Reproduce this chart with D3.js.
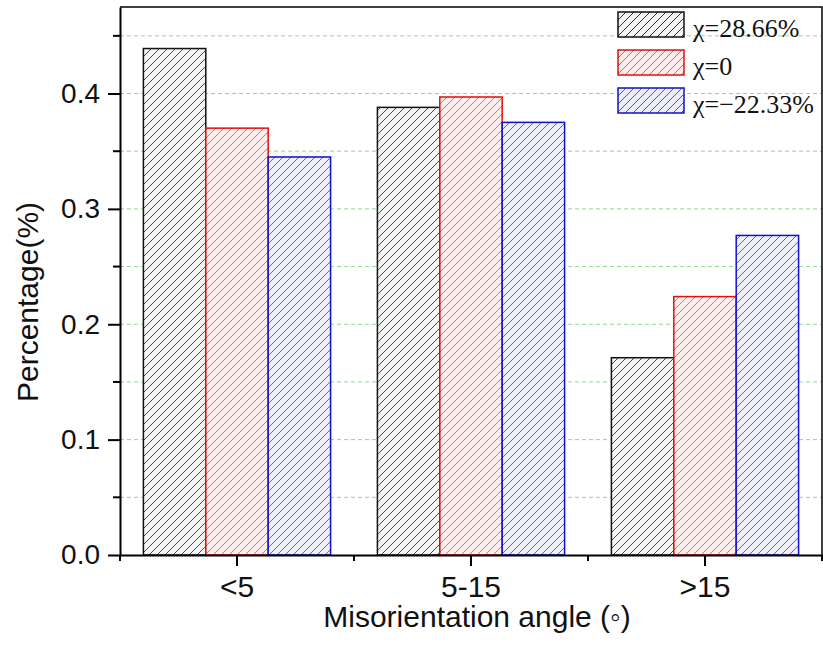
<!DOCTYPE html>
<html>
<head>
<meta charset="utf-8">
<script src="https://cdn.jsdelivr.net/npm/d3@7"></script>
<style>
  body { margin: 0; background: #fff; }
  svg { display: block; }
</style>
</head>
<body>
<svg id="chart" width="823" height="648"></svg>
<script>
// data
const categories = ['<5', '5-15', '>15']
const seriesNames = ['χ=28.66%', 'χ=0', 'χ=−22.33%']
const chi2866 = [0.439, 0.388, 0.171]
const chi0 = [0.370, 0.397, 0.224]
const chiMinus2233 = [0.345, 0.375, 0.277]
const yTicks = [0.0, 0.1, 0.2, 0.3, 0.4]
const yMinorTicks = [0.05, 0.15, 0.25, 0.35, 0.45]

const values = [chi2866, chi0, chiMinus2233]
const strokes = ['#111', '#e01010', '#1010c8']
const hatch = ['#333', '#e06060', '#5050c0']
const tints = ['#f3f3f3', '#fcebeb', '#ededf9']

const svg = d3.select('#chart')
const mLeft = 120, mRight = 822, mTop = 7, mBottom = 555

const x0 = d3.scaleBand().domain(categories).range([mLeft, mRight])
const bw = x0.bandwidth()
const x1 = d3.scaleBand().domain(d3.range(3)).range([bw * 0.1, bw * 0.9])
const y = d3.scaleLinear().domain([0, 0.475]).range([mBottom, mTop])

// hatch patterns
const defs = svg.append('defs')
hatch.forEach((c, i) => {
  const p = defs.append('pattern')
    .attr('id', 'hatch' + i)
    .attr('patternUnits', 'userSpaceOnUse')
    .attr('width', 8)
    .attr('height', 8)
  p.append('rect').attr('width', 8).attr('height', 8).attr('fill', tints[i])
  p.append('path')
    .attr('d', 'M0,8 L8,0 M-2,2 L2,-2 M6,10 L10,6')
    .attr('stroke', c)
    .attr('stroke-width', 1)
})

// gridlines
svg.append('g')
  .selectAll('line')
  .data(yMinorTicks.concat(yTicks.slice(1)))
  .enter().append('line')
  .attr('x1', mLeft)
  .attr('x2', mRight)
  .attr('y1', d => y(d))
  .attr('y2', d => y(d))
  .attr('stroke', '#8fd68f')
  .attr('stroke-width', 1)
  .attr('stroke-dasharray', '4,3')

// bars
const rows = []
categories.forEach((c, ci) => {
  values.forEach((s, si) => rows.push({ cat: c, s: si, v: s[ci] }))
})
svg.append('g')
  .selectAll('rect')
  .data(rows)
  .enter().append('rect')
  .attr('x', d => x0(d.cat) + x1(d.s))
  .attr('y', d => y(d.v))
  .attr('width', x1.bandwidth())
  .attr('height', d => y(0) - y(d.v))
  .attr('fill', d => 'url(#hatch' + d.s + ')')
  .attr('fill-opacity', 0.9)
  .attr('stroke', d => strokes[d.s])
  .attr('stroke-width', 1.5)

// frame top/right
svg.append('path')
  .attr('d', `M${mLeft},${mTop} H${mRight} V${mBottom}`)
  .attr('fill', 'none')
  .attr('stroke', '#000')
  .attr('stroke-width', 1.5)

// x axis
const xAxis = svg.append('g')
  .attr('transform', `translate(0,${mBottom})`)
  .call(d3.axisBottom(x0).tickSize(11).tickSizeOuter(0).tickPadding(10))
xAxis.select('.domain').attr('stroke-width', 2)
xAxis.selectAll('.tick line').attr('stroke-width', 2)
xAxis.selectAll('text')
  .attr('font-family', 'Liberation Sans, Arial, sans-serif')
  .attr('font-size', 30)
  .attr('fill', '#111')
xAxis.selectAll('.minor')
  .data(categories.map(c => x0(c)).concat([mRight]))
  .enter().append('line')
  .attr('class', 'minor')
  .attr('x1', d => d).attr('x2', d => d)
  .attr('y1', 0).attr('y2', 6)
  .attr('stroke', '#000')
  .attr('stroke-width', 2)

// y axis
const yAxis = svg.append('g')
  .attr('transform', `translate(${mLeft},0)`)
  .call(d3.axisLeft(y).tickValues(yTicks).tickFormat(d3.format('.1f')).tickSize(12).tickSizeOuter(0).tickPadding(8))
yAxis.select('.domain').attr('stroke-width', 2)
yAxis.selectAll('.tick line').attr('stroke-width', 2)
yAxis.selectAll('text')
  .attr('font-family', 'Liberation Sans, Arial, sans-serif')
  .attr('font-size', 28)
  .attr('fill', '#111')
yAxis.selectAll('.minor')
  .data(yMinorTicks)
  .enter().append('line')
  .attr('class', 'minor')
  .attr('x1', -7).attr('x2', 0)
  .attr('y1', d => y(d)).attr('y2', d => y(d))
  .attr('stroke', '#000')
  .attr('stroke-width', 2)

// axis titles
svg.append('text')
  .attr('x', (mLeft + mRight) / 2 + 6)
  .attr('y', 627)
  .attr('text-anchor', 'middle')
  .attr('font-family', 'Liberation Sans, Arial, sans-serif')
  .attr('font-size', 30)
  .attr('fill', '#111')
  .text('Misorientation angle (◦)')

svg.append('text')
  .attr('transform', 'translate(38,302) rotate(-90)')
  .attr('text-anchor', 'middle')
  .attr('font-family', 'Liberation Sans, Arial, sans-serif')
  .attr('font-size', 30)
  .attr('fill', '#111')
  .text('Percentage(%)')

// legend
const legend = svg.append('g')
  .selectAll('g')
  .data(seriesNames)
  .enter().append('g')
  .attr('transform', (d, i) => `translate(618,${12 + i * 38})`)
legend.append('rect')
  .attr('width', 66)
  .attr('height', 25)
  .attr('fill', (d, i) => 'url(#hatch' + i + ')')
  .attr('stroke', (d, i) => strokes[i])
  .attr('stroke-width', 1.5)
legend.append('text')
  .attr('x', 75)
  .attr('y', 25)
  .attr('font-family', 'Liberation Serif, Times New Roman, serif')
  .attr('font-size', 26)
  .attr('fill', '#111')
  .text(d => d)
</script>
</body>
</html>
